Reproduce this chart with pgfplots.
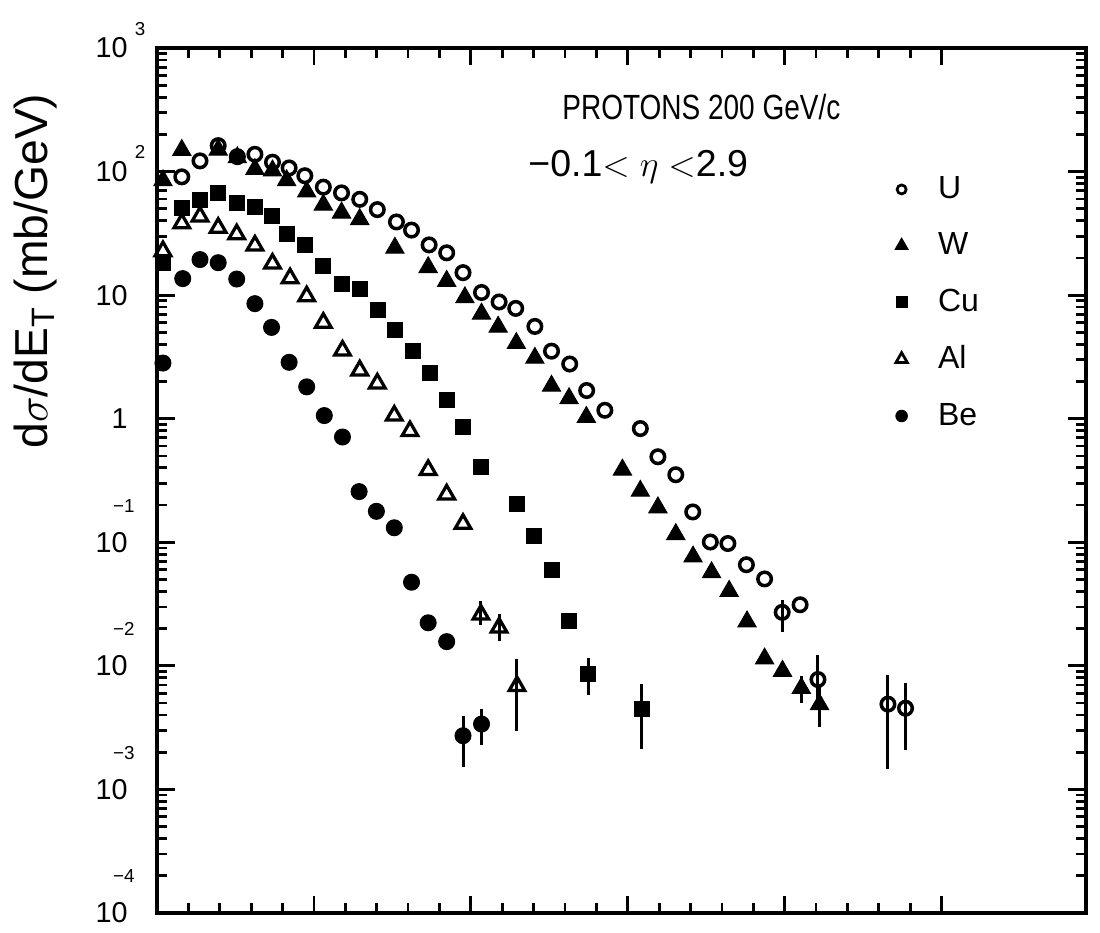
\documentclass[border=0pt]{standalone}
\usepackage{fontspec}
\setmainfont{Liberation Sans}
\newfontfamily\narrowfont[FakeStretch=0.8]{Liberation Sans}
\usepackage{pgfplots}
\usepackage{pgfplotstable}
\pgfplotsset{compat=1.18}

\newcommand{\pexp}[1]{10\rlap{\smash{\raisebox{9pt}{\fontsize{7.5}{8}\selectfont\hspace{3pt}#1}}}}
\newcommand{\nexp}[1]{10\rlap{\hspace{2.8pt}\smash{\llap{\raisebox{16pt}{\fontsize{7.5}{8}\selectfont −#1}}}}}

\pgfplotsset{legmark/.style={legend image code/.code={\path (-5pt,-3pt) (12pt,3pt); \draw[##1] plot coordinates {(0pt,0pt)};}}}

\pgfplotstableread{
x y ep em
0.79 90.6 0 0
1.37 122 0 0
1.95 162 0 0
2.56 132 0 0
3.12 138 0 0
3.68 119 0 0
4.21 107 0 0
4.71 92.5 0 0
5.30 74.8 0 0
5.88 67.2 0 0
6.46 59.6 0 0
7.02 49.2 0 0
7.63 39.1 0 0
8.11 33.6 0 0
8.67 25.5 0 0
9.23 22.0 0 0
9.75 15.2 0 0
10.34 10.5 0 0
10.90 8.80 0 0
11.43 7.81 0 0
12.04 5.58 0 0
12.57 3.52 0 0
13.15 2.77 0 0
13.69 1.69 0 0
14.27 1.17 0 0
15.40 0.832 0 0
15.96 0.492 0 0
16.53 0.352 0 0
17.07 0.176 0 0
17.63 0.1005 0 0
18.19 0.0977 0 0
18.78 0.0658 0 0
19.36 0.0505 0 0
19.92 0.0271 0.0068 0.0083
20.49 0.0312 0 0
21.06 0.00775 0.0046 0.0030
23.29 0.00490 0.00349 0.00344
23.85 0.00454 0.0027 0.00246
}\tabU

\pgfplotstableread{
x y ep em
0.19 84.7 0 0
0.79 149 0 0
1.95 150 0 0
2.56 130 0 0
3.12 104.5 0 0
3.68 101.7 0 0
4.13 84.8 0 0
4.77 68.7 0 0
5.30 53.8 0 0
5.88 46.4 0 0
6.46 41.1 0 0
7.58 24.1 0 0
8.64 16.8 0 0
9.23 13.0 0 0
9.81 9.57 0 0
10.34 7.06 0 0
10.87 5.53 0 0
11.45 4.08 0 0
12.04 3.10 0 0
12.57 1.84 0 0
13.13 1.46 0 0
13.68 1.03 0 0
14.83 0.386 0 0
15.40 0.260 0 0
15.96 0.191 0 0
16.53 0.116 0 0
17.08 0.0764 0 0
17.67 0.0570 0 0
18.23 0.0403 0 0
18.80 0.0228 0 0
19.36 0.01143 0 0
19.93 0.00908 0 0
20.53 0.00661 0.0016 0.0016
21.11 0.00488 0.0018 0.0017
}\tabW

\pgfplotstableread{
x y ep em
0.19 18.1 0 0
0.79 50.4 0 0
1.37 59.0 0 0
1.95 67.1 0 0
2.54 56.0 0 0
3.12 51.3 0 0
3.65 43.3 0 0
4.13 31.5 0 0
4.71 25.5 0 0
5.30 17.1 0 0
5.88 12.2 0 0
6.46 11.2 0 0
7.05 7.54 0 0
7.58 5.22 0 0
8.16 3.51 0 0
8.69 2.34 0 0
9.23 1.42 0 0
9.75 0.855 0 0
10.32 0.409 0 0
11.46 0.203 0 0
12.02 0.113 0 0
12.57 0.0593 0 0
13.13 0.0229 0 0
13.74 0.00863 0.0030 0.0028
15.44 0.00451 0.0026 0.0024
}\tabCu

\pgfplotstableread{
x y ep em
0.19 22.7 0 0
0.79 38.1 0 0
1.37 43.3 0 0
1.95 35.1 0 0
2.54 31.1 0 0
3.12 25.2 0 0
3.68 18.0 0 0
4.24 13.7 0 0
4.77 9.78 0 0
5.30 5.98 0 0
5.91 3.56 0 0
6.46 2.46 0 0
7.02 1.93 0 0
7.56 1.06 0 0
8.06 0.794 0 0
8.64 0.385 0 0
9.23 0.244 0 0
9.75 0.141 0 0
10.32 0.0260 0.0073 0.0044
10.90 0.0204 0.0058 0.0045
11.47 0.00686 0.0045 0.0039
}\tabAl

\pgfplotstableread{
x y ep em
0.19 2.82 0 0
0.82 13.6 0 0
1.37 19.4 0 0
1.95 18.3 0 0
2.54 13.5 0 0
3.12 8.53 0 0
3.65 5.48 0 0
4.21 2.86 0 0
4.77 1.81 0 0
5.33 1.06 0 0
5.91 0.711 0 0
6.44 0.257 0 0
6.99 0.178 0 0
7.56 0.131 0 0
8.11 0.0475 0 0
8.64 0.0223 0 0
9.23 0.0157 0 0
9.75 0.00272 0.0012 0.0012
10.34 0.00338 0.0011 0.0011
}\tabBe

\begin{document}
\begin{tikzpicture}
\begin{axis}[
  scale only axis, width=371.6pt, height=346pt,
  ymode=log, ymin=1e-4, ymax=1e3, xmin=0, xmax=29.6,
  clip=false,
  xtick={0,5,...,25}, minor x tick num=4, xticklabels={},
  ytick={1e-4,1e-3,1e-2,1e-1,1,10,100,1000},
  yticklabels={\nexp{4},\nexp{3},\nexp{2},\nexp{1},1\hspace{2.4pt},10,\pexp{2},\pexp{3}},
  yticklabel style={anchor=east, inner sep=0pt, xshift=-11.6pt, font=\fontsize{11.5}{12}\selectfont},
  tick align=inside,
  major tick length=7pt, minor tick length=4pt,
  tick style={black, line width=1.1pt},
  axis line style={line width=1.8pt},
  ylabel={d$\sigma$/dE\textsubscript{T} (mb/GeV)},
  ylabel style={at={(axis description cs:-0.131,0.742)}, anchor=center, font=\fontsize{18.5}{19}\selectfont},
  error bars/y dir=both, error bars/y explicit,
  error bars/error mark=none,
  error bars/error bar style={line width=1.2pt, black},
  legend style={draw=none, fill=none, at={(axis description cs:0.778,0.8635)}, anchor=north west,
    font=\fontsize{12.8}{13}\selectfont, row sep=8.2pt, cells={anchor=west}},
]
\addplot[only marks, black, mark=o, mark size=2.7pt, line width=1.4pt, legmark,
  legend image post style={mark size=1.8pt, line width=1.1pt}]
  table[x=x, y=y, y error plus=ep, y error minus=em]{\tabU};
\addplot[only marks, black, mark=triangle*, mark size=4.2pt, legmark,
  legend image post style={mark size=3pt}]
  table[x=x, y=y, y error plus=ep, y error minus=em]{\tabW};
\addplot[only marks, black, mark=square*, mark size=3pt, legmark,
  legend image post style={mark size=2.2pt}]
  table[x=x, y=y, y error plus=ep, y error minus=em]{\tabCu};
\addplot[only marks, black, mark=triangle, mark size=3.6pt, line width=1.3pt, legmark,
  mark options={fill=white},
  legend image post style={mark size=2.6pt, line width=1.1pt}]
  table[x=x, y=y, y error plus=ep, y error minus=em]{\tabAl};
\addplot[only marks, black, mark=*, mark size=3.2pt, legmark,
  legend image post style={mark size=2.3pt}]
  table[x=x, y=y, y error plus=ep, y error minus=em]{\tabBe};
\legend{U,W,Cu,Al,Be}
\node[font=\narrowfont\fontsize{14}{15}\selectfont] at (axis description cs:0.586,0.932) {PROTONS 200 GeV/c};
\node[font=\fontsize{15}{16}\selectfont] at (axis description cs:0.518,0.862) {−0.1$<\eta<$2.9};
\end{axis}
\pgfresetboundingbox
\path[use as bounding box] ([xshift=-62.8pt,yshift=-8pt]current axis.south west) rectangle ([xshift=5.6pt,yshift=19.2pt]current axis.north east);
\end{tikzpicture}
\end{document}
